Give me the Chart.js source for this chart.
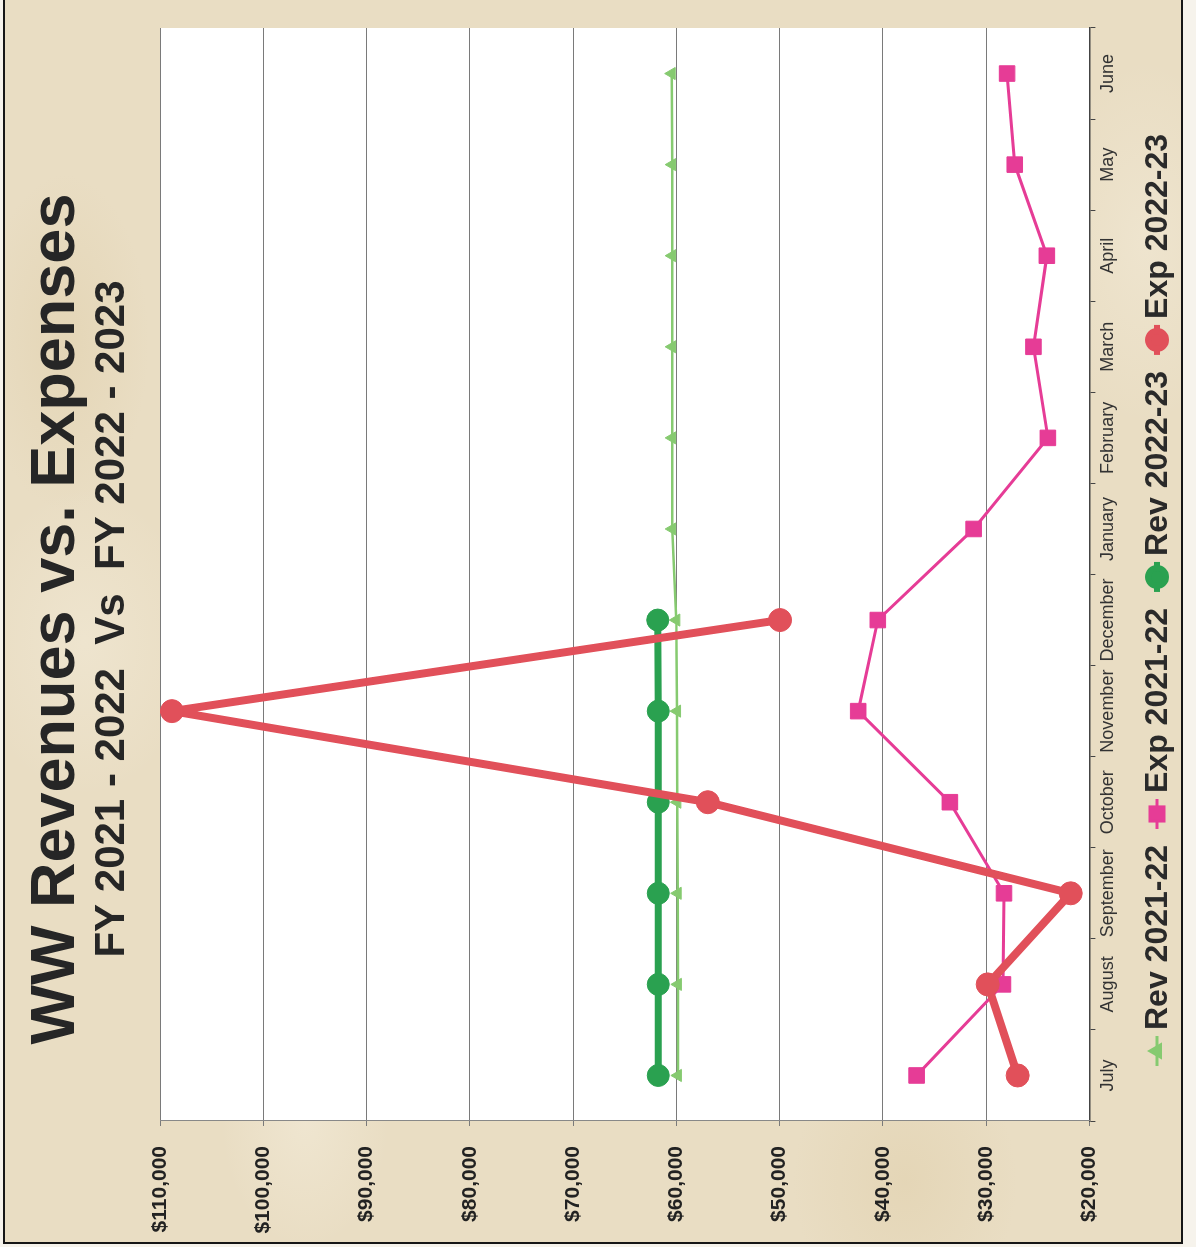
<!DOCTYPE html>
<html>
<head>
<meta charset="utf-8">
<script src="https://cdn.jsdelivr.net/npm/chart.js@4"></script>
<style>
html,body{margin:0;padding:0;width:1196px;height:1247px;overflow:hidden;background:#f4f1ea;}
#page{position:absolute;left:0;top:0;width:1247px;height:1196px;transform-origin:0 0;transform:translate(0,1247px) rotate(-90deg);background:#f6f3ec;}
#paper{position:absolute;left:3px;top:3px;width:1246px;height:1180px;box-sizing:border-box;
  border-left:2px solid #161616;border-top:2px solid #161616;border-bottom:2px solid #161616;
  background:
    radial-gradient(ellipse 180px 120px at 120px 300px, rgba(250,245,232,0.35), rgba(250,245,232,0) 70%),
    radial-gradient(ellipse 220px 160px at 600px 80px, rgba(250,245,232,0.3), rgba(250,245,232,0) 70%),
    radial-gradient(ellipse 260px 140px at 1000px 1140px, rgba(250,245,232,0.3), rgba(250,245,232,0) 70%),
    radial-gradient(ellipse 200px 160px at 60px 900px, rgba(214,192,145,0.25), rgba(214,192,145,0) 70%),
    radial-gradient(ellipse 240px 120px at 900px 60px, rgba(214,192,145,0.25), rgba(214,192,145,0) 70%),
    #e9ddc3;}
canvas{position:absolute;left:0;top:0;}
</style>
</head>
<body>
<div id="page">
  <div id="paper"></div>
  <canvas id="c" width="1247" height="1196"></canvas>
</div>
<script>
const months = ['July','August','September','October','November','December','January','February','March','April','May','June'];
const rev2122 = [59850,59850,59870,59900,59930,60000,60400,60400,60400,60400,60400,60450];
const exp2122 = [36730,28370,28270,33510,42390,40490,31210,24020,25420,24120,27230,27970];
const rev2223 = [61750,61750,61750,61750,61750,61800];
const exp2223 = [26950,29850,21810,56950,108840,49960];
const yMin = 20000, yMax = 110000, yStep = 10000;
const seriesNames = ['Rev 2021-22','Exp 2021-22','Rev 2022-23','Exp 2022-23'];

const FONT = "'Liberation Sans', Arial, sans-serif";

const plotBg = {
  id:'plotBg',
  beforeDraw(chart){
    const {ctx, chartArea:a} = chart;
    ctx.save(); ctx.fillStyle='#ffffff';
    ctx.fillRect(a.left,a.top,a.right-a.left,a.bottom-a.top);
    ctx.restore();
  }
};

const customLegend = {
  id:'customLegend',
  afterDraw(chart){
    const ctx = chart.ctx;
    let x = 181;
    const y = 1157;
    ctx.save();
    ctx.font = "bold 32px " + FONT;
    ctx.textBaseline = 'middle';
    ctx.textAlign = 'left';
    chart.data.datasets.forEach(ds=>{
      ctx.strokeStyle = ds.borderColor;
      ctx.fillStyle = ds.borderColor;
      ctx.lineWidth = ds.legendLine;
      ctx.beginPath(); ctx.moveTo(x, y); ctx.lineTo(x+30, y); ctx.stroke();
      Chart.helpers.drawPoint(ctx, {pointStyle: ds.pointStyle, radius: ds.legendRadius, rotation:0, borderWidth:1}, x+15, y);
      ctx.fillStyle = '#2a2a2a';
      ctx.fillText(ds.label, x+36, y+1);
      x += 36 + ctx.measureText(ds.label).width + 16;
    });
    ctx.restore();
  }
};

new Chart(document.getElementById('c'), {
  type:'line',
  data:{
    labels: months,
    datasets:[
      {label:seriesNames[0], data:rev2122, borderColor:'#86ca70', backgroundColor:'#86ca70', borderWidth:2.5,
       pointStyle:'triangle', pointRadius:7, pointBorderWidth:1, order:3, legendLine:3, legendRadius:7},
      {label:seriesNames[1], data:exp2122, borderColor:'#e63c96', backgroundColor:'#e63c96', borderWidth:3,
       pointStyle:'rect', pointRadius:11, pointBorderWidth:1, order:2, legendLine:3, legendRadius:10},
      {label:seriesNames[2], data:rev2223, borderColor:'#2aa150', backgroundColor:'#2aa150', borderWidth:7,
       pointStyle:'circle', pointRadius:11, pointBorderWidth:1, order:1, legendLine:6, legendRadius:9},
      {label:seriesNames[3], data:exp2223, borderColor:'#e1505a', backgroundColor:'#e1505a', borderWidth:8,
       pointStyle:'circle', pointRadius:11.5, pointBorderWidth:1, order:0, legendLine:6, legendRadius:9}
    ]
  },
  options:{
    responsive:false,
    animation:false,
    devicePixelRatio:1,
    layout:{padding:{left:12,right:3,top:0,bottom:75}},
    elements:{line:{tension:0}},
    plugins:{
      legend:{display:false},
      tooltip:{enabled:false},
      title:{display:true,text:'WW Revenues vs. Expenses',color:'#262626',
        font:{family:FONT,size:63,weight:'bold',lineHeight:1.1},padding:{top:22,bottom:0}},
      subtitle:{display:true,text:'FY 2021 - 2022  Vs  FY 2022 - 2023',color:'#262626',
        font:{family:FONT,size:42,weight:'bold',lineHeight:1.0},padding:{top:0,bottom:26.7}}
    },
    scales:{
      x:{
        type:'category', offset:true,
        grid:{display:true,drawOnChartArea:false,drawTicks:true,tickLength:6,color:'#444',offset:true},
        border:{display:true,color:'#444',width:1.5},
        ticks:{font:{family:FONT,size:18},color:'#333',padding:2,maxRotation:0,minRotation:0,autoSkip:false}
      },
      y:{
        min:yMin,max:yMax,
        afterFit(scale){ scale.width = 114; },
        ticks:{stepSize:yStep,font:{family:FONT,size:21,weight:'bold'},color:'#222',padding:20,
          callback:v=>'$'+Number(v).toLocaleString('en-US')},
        grid:{color:'#7a7a7a',lineWidth:1,tickLength:5},
        border:{display:true,color:'#888',width:1}
      },
      spacer:{
        position:'right', min:yMin, max:yMax,
        afterFit(scale){ scale.width = 25; },
        ticks:{display:false}, grid:{display:false}, border:{display:false}
      }
    }
  },
  plugins:[plotBg, customLegend]
});
</script>
</body>
</html>
